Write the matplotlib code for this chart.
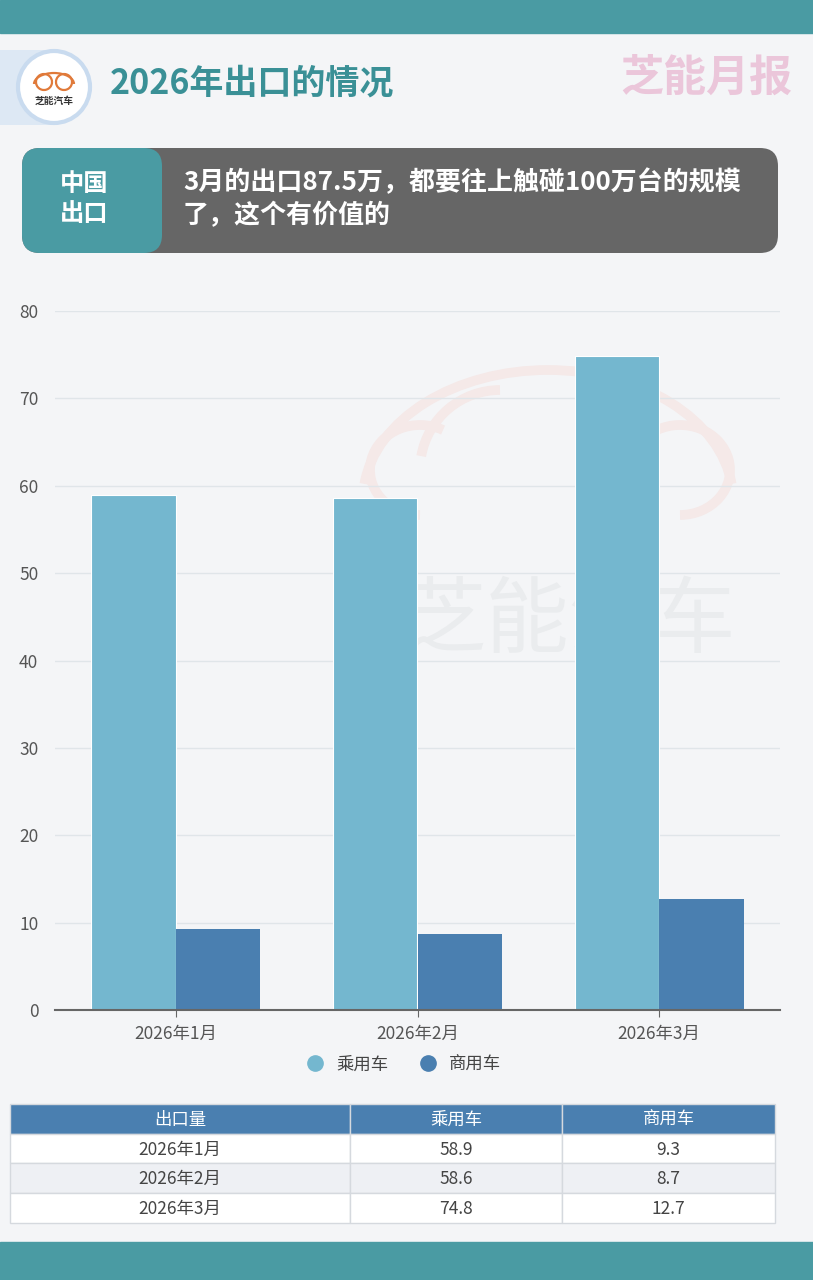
import numpy as np
import matplotlib
matplotlib.use("Agg")
import matplotlib.pyplot as plt
from matplotlib.patches import Rectangle, FancyBboxPatch, Circle, Arc
from matplotlib.lines import Line2D

plt.rcParams['font.family'] = ['Noto Sans CJK SC', 'DejaVu Sans']

# data
months = ["2026年1月", "2026年2月", "2026年3月"]
passenger = [58.9, 58.6, 74.8]   # 乘用车
commercial = [9.3, 8.7, 12.7]    # 商用车
series_names = ["乘用车", "商用车"]
table_header = ["出口量", "乘用车", "商用车"]
y_ticks = [0, 10, 20, 30, 40, 50, 60, 70, 80]

title = "2026年出口的情况"
tag = "中国\n出口"
note = "3月的出口87.5万，都要往上触碰100万台的规模\n了，这个有价值的"

W, H = 813, 1280
TEAL = "#4a9ba3"
LIGHT = "#74b7cf"
DARK = "#4a7fb0"
BG = "#f4f5f7"

fig = plt.figure(figsize=(W / 100, H / 100), dpi=100)
fig.patch.set_facecolor(BG)

# background layer in pixel coordinates
bg = fig.add_axes([0, 0, 1, 1])
bg.set_xlim(0, W)
bg.set_ylim(H, 0)
bg.axis("off")

# top / bottom bands
bg.add_patch(Rectangle((0, 0), W, 33, color=TEAL))
bg.add_patch(Rectangle((0, 1242), W, 38, color=TEAL))

# header: logo
bg.add_patch(Rectangle((0, 50), 56, 75, color="#dde8f4", lw=0))
bg.add_patch(Circle((54, 87), 36, facecolor="white", edgecolor="#c9dbef", lw=3))
bg.add_patch(Arc((44, 82), 16, 16, color="#e07a3a", lw=1.6))
bg.add_patch(Arc((64, 82), 16, 16, color="#e07a3a", lw=1.6))
bg.add_patch(Arc((54, 84), 40, 22, theta1=180, theta2=360, color="#e07a3a", lw=1.6))
bg.text(54, 101, "芝能汽车", fontsize=7, fontweight="bold", color="#333333",
        ha="center", va="center")

bg.text(110, 83, title, fontsize=24.5, fontweight="bold", color="#3a9096",
        ha="left", va="center")
bg.text(792, 78, "芝能月报", fontsize=31, fontweight="bold", style="italic",
        color="#ebc6da", ha="right", va="center")

# note box
bg.add_patch(FancyBboxPatch((22, 148), 756, 105,
                            boxstyle="round,pad=0,rounding_size=18",
                            facecolor="#666666", edgecolor="none"))
bg.add_patch(FancyBboxPatch((22, 148), 140, 105,
                            boxstyle="round,pad=0,rounding_size=18",
                            facecolor=TEAL, edgecolor="none"))
bg.text(60, 199, tag, fontsize=17.5, fontweight="bold", color="white",
        ha="left", va="center", linespacing=1.35)
bg.text(183, 199, note, fontsize=18.7, fontweight="bold", color="white",
        ha="left", va="center", linespacing=1.3)

# watermark in chart area
wm = "#f5e9e8"
bg.add_patch(Arc((548, 500), 370, 260, theta1=185, theta2=355, color=wm, lw=7))
bg.add_patch(Arc((420, 470), 100, 90, theta1=90, theta2=300, color=wm, lw=7))
bg.add_patch(Arc((680, 470), 100, 90, theta1=240, theta2=450, color=wm, lw=7))
bg.add_patch(Arc((500, 470), 160, 160, theta1=190, theta2=270, color=wm, lw=7))
bg.text(570, 622, "芝能汽车", fontsize=60, color="#eaecee",
        ha="center", va="center")

# chart
x0, x1, ytop, ybot = 55, 780, 311, 1010
ax = fig.add_axes([x0 / W, (H - ybot) / H, (x1 - x0) / W, (ybot - ytop) / H])
ax.set_facecolor("none")

x = np.arange(len(months))
bw = 0.35
ax.bar(x - bw / 2, passenger, bw, color=LIGHT, edgecolor="white", linewidth=0.8,
       zorder=3)
ax.bar(x + bw / 2, commercial, bw, color=DARK, edgecolor="none", zorder=3)

ax.set_xlim(-0.5, len(months) - 0.5)
ax.set_ylim(0, 80)
ax.set_yticks(y_ticks)
ax.set_xticks(x)
ax.set_xticklabels(months)
ax.grid(axis="y", color="#e0e5e9", lw=1, zorder=0)
for s in ["top", "right", "left"]:
    ax.spines[s].set_visible(False)
ax.spines["bottom"].set_color("#666666")
ax.spines["bottom"].set_linewidth(1.5)
ax.spines["bottom"].set_zorder(4)
ax.tick_params(axis="y", length=0, pad=12, labelsize=12.5, labelcolor="#555555")
ax.tick_params(axis="x", length=5, color="#666666", pad=6, labelsize=12.5,
               labelcolor="#555555")

handles = [Line2D([], [], marker="o", ls="", ms=11, color=c) for c in (LIGHT, DARK)]
ax.legend(handles, series_names, loc="center", bbox_to_anchor=(0.475, -0.078),
          ncol=2, frameon=False, fontsize=12.5, handletextpad=0.2,
          columnspacing=1.3, labelcolor="#444444")

# table
cols = [10, 350, 562, 775]
ty = 1104
rh = 29.7
for j, name in enumerate(table_header):
    bg.add_patch(Rectangle((cols[j], ty), cols[j + 1] - cols[j], rh,
                           facecolor=DARK, edgecolor="#d5d9de", lw=1))
    bg.text((cols[j] + cols[j + 1]) / 2, ty + rh / 2 + 1, name, fontsize=12.5,
            color="white", ha="center", va="center")
for i, m in enumerate(months):
    row = [m, f"{passenger[i]:.1f}", f"{commercial[i]:.1f}"]
    y = ty + rh * (i + 1)
    fc = "#eef0f4" if i % 2 == 1 else "white"
    for j, val in enumerate(row):
        bg.add_patch(Rectangle((cols[j], y), cols[j + 1] - cols[j], rh,
                               facecolor=fc, edgecolor="#d5d9de", lw=1))
        bg.text((cols[j] + cols[j + 1]) / 2, y + rh / 2 + 1, val, fontsize=12.5,
                color="#444444", ha="center", va="center")

fig.savefig("out.png", dpi=100, facecolor=fig.get_facecolor())
